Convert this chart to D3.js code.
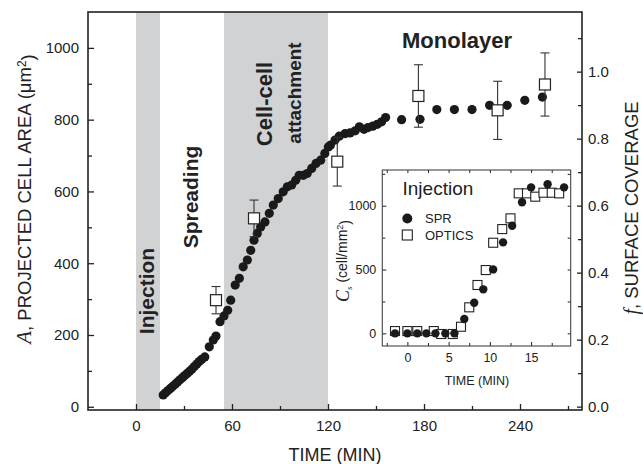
<!DOCTYPE html>
<html>
<head>
<meta charset="utf-8">
<script src="https://cdn.jsdelivr.net/npm/d3@7"></script>
<style>
  body { margin: 0; background: #fff; }
  text { font-family: "Liberation Sans", Arial, sans-serif; fill: #222; }
  .axis path, .axis line { stroke: #222; }
</style>
</head>
<body>
<script>
// main chart: SPR projected cell area vs time
var sprTime = [17, 18.5, 20, 21.5, 23, 24.5, 26, 27.5, 29, 30.5, 32, 33.5, 35, 36.5, 38, 39.5, 41, 43,
  45.8, 48.3, 50, 52.5, 55, 57.3, 59.2, 62, 64.6, 67, 69.6, 71.7, 73.75, 75.8, 77.9, 80.6, 83.3, 85.8,
  88.9, 92, 94.6, 97.3, 99.8, 102, 104.6, 107, 109.8, 112.5, 115.4, 118, 120.2, 121.5, 124.4, 127,
  130.6, 133.75, 137, 139.6, 142.5, 145, 148, 150.8, 153.5, 156, 166, 177.5, 188, 199, 210, 221, 232, 243, 254];
var sprArea = [33, 39, 45, 51, 57, 63, 69, 75, 81, 87, 93, 99, 105, 112, 119, 126, 132, 139,
  167, 186, 197, 237, 253, 269, 297, 339, 358, 390, 409, 436, 464, 483, 501, 515, 539, 562,
  580, 599, 613, 618, 631, 645, 645, 650, 664, 678, 687, 706, 724, 729, 743, 754,
  761, 763, 769, 780, 773, 778, 782, 787, 794, 806, 800, 801, 828, 828, 828, 840, 840, 854, 863];

// optical measurements with error bars
var optTime = [50, 73.75, 125.8, 176.5, 226, 255.6];
var optArea = [297, 525, 683, 866, 826, 898];
var optErr = [38, 51, 68, 87, 81, 88];

// shaded phases (min)
var phaseStart = [0, 55];
var phaseEnd = [15, 120];

var xTicks = [0, 60, 120, 180, 240];
var xMinor = [30, 90, 150, 210, 270];
var yTicks = [0, 200, 400, 600, 800, 1000];
var yMinor = [100, 300, 500, 700, 900];
var fTicks = [0, 0.2, 0.4, 0.6, 0.8, 1.0];
var fMinor = [0.1, 0.3, 0.5, 0.7, 0.9, 1.1];

// inset: cell density during injection
var insSprTime = [-1.5, 0, 1.2, 2.3, 3.4, 4.6, 5.7, 6.9, 8.1, 9.2, 10.4, 11.6, 12.7, 13.9, 15, 17, 19];
var insSprVal = [0, 0, 0, 0, 0, 0, 0, 112, 240, 345, 501, 713, 843, 1027, 1144, 1168, 1144];
var insOptTime = [-1.5, 0, 1.2, 3.2, 4.1, 5.5, 6.5, 7.5, 8.5, 9.5, 10.4, 11.5, 12.5, 13.5, 14.5, 15.5, 16.5, 17.5, 18.4];
var insOptVal = [18, 18, 18, 18, -5, -5, 52, 204, 379, 496, 710, 817, 901, 1097, 1097, 1071, 1102, 1102, 1097];
var insXTicks = [0, 5, 10, 15];
var insXMinor = [-2.5, 2.5, 7.5, 12.5, 17.5];
var insYTicks = [0, 500, 1000];
var insYMinor = [250, 750, 1250];

var svg = d3.select("body").append("svg")
  .attr("width", 643)
  .attr("height", 464);

var mLeft = 88, mRight = 582, mTop = 12, mBottom = 410;

var x = d3.scaleLinear().domain([-30, 278.75]).range([mLeft, mRight]);
var y = d3.scaleLinear().domain([-9, 1100]).range([mBottom, mTop]);
var yf = d3.scaleLinear().domain([-0.01, 1.178]).range([mBottom, mTop]);

// shaded bands
svg.selectAll(".band")
  .data(phaseStart)
  .enter()
  .append("rect")
  .attr("x", function(d) { return x(d); })
  .attr("y", mTop)
  .attr("width", function(d, i) { return x(phaseEnd[i]) - x(d); })
  .attr("height", mBottom - mTop)
  .attr("fill", "#d1d2d3");

// axes (ticks inward)
function styleAxis(g) {
  g.attr("class", "axis");
  g.selectAll("text").style("font-size", "15px");
  g.selectAll("line").attr("stroke-width", 1.3);
  g.select(".domain").remove();
}

svg.append("g")
  .attr("transform", "translate(" + mLeft + ",0)")
  .call(d3.axisLeft(y).tickValues(yTicks).tickSize(-6).tickPadding(9).tickFormat(d3.format("d")))
  .call(styleAxis);
svg.append("g")
  .attr("transform", "translate(" + mLeft + ",0)")
  .call(d3.axisLeft(y).tickValues(yMinor).tickSize(-4).tickFormat(""))
  .call(styleAxis);

svg.append("g")
  .attr("transform", "translate(0," + mBottom + ")")
  .call(d3.axisBottom(x).tickValues(xTicks).tickSize(-6).tickPadding(10))
  .call(styleAxis);
svg.append("g")
  .attr("transform", "translate(0," + mBottom + ")")
  .call(d3.axisBottom(x).tickValues(xMinor).tickSize(-4).tickFormat(""))
  .call(styleAxis);

svg.append("g")
  .attr("transform", "translate(" + mRight + ",0)")
  .call(d3.axisRight(yf).tickValues(fTicks).tickSize(-5).tickPadding(6).tickFormat(d3.format(".1f")))
  .call(styleAxis);
svg.append("g")
  .attr("transform", "translate(" + mRight + ",0)")
  .call(d3.axisRight(yf).tickValues(fMinor).tickSize(-4).tickFormat(""))
  .call(styleAxis);

// frame
svg.append("rect")
  .attr("x", mLeft).attr("y", mTop)
  .attr("width", mRight - mLeft).attr("height", mBottom - mTop)
  .attr("fill", "none")
  .attr("stroke", "#222")
  .attr("stroke-width", 1.6);

// phase labels
function vlabel(txt, cx, cy, size, weight) {
  svg.append("text")
    .attr("transform", "translate(" + cx + "," + cy + ") rotate(-90)")
    .attr("text-anchor", "middle")
    .attr("dy", "0.35em")
    .style("font-size", size + "px")
    .style("font-weight", weight)
    .text(txt);
}
vlabel("Injection", 147, 291, 21, "bold");
vlabel("Spreading", 191, 197, 21, "bold");
vlabel("Cell-cell", 264, 104, 22, "bold");
vlabel("attachment", 294, 93, 19, "bold");

svg.append("text")
  .attr("x", 457).attr("y", 48)
  .attr("text-anchor", "middle")
  .style("font-size", "22px")
  .style("font-weight", "bold")
  .text("Monolayer");

// axis titles
svg.append("text")
  .attr("x", 335).attr("y", 461)
  .attr("text-anchor", "middle")
  .style("font-size", "18px")
  .text("TIME (MIN)");

var yl = svg.append("text")
  .attr("transform", "translate(25,199) rotate(-90)")
  .attr("text-anchor", "middle")
  .attr("dy", "0.35em")
  .style("font-size", "18.5px");
yl.append("tspan").style("font-family", "'Liberation Serif', serif").style("font-style", "italic").style("font-size", "21px").text("A");
yl.append("tspan").text(", PROJECTED CELL AREA (\u03bcm");
yl.append("tspan").attr("dy", "-0.45em").style("font-size", "12px").text("2");
yl.append("tspan").attr("dy", "0.45em").text(")");

var fl = svg.append("text")
  .attr("transform", "translate(632,208) rotate(-90)")
  .attr("text-anchor", "middle")
  .attr("dy", "0.35em")
  .style("font-size", "18.5px");
fl.append("tspan").style("font-family", "'Liberation Serif', serif").style("font-style", "italic").style("font-size", "20px").text("f");
fl.append("tspan").text(", SURFACE COVERAGE");

// SPR dots
svg.selectAll(".spr")
  .data(sprTime)
  .enter()
  .append("circle")
  .attr("class", "spr")
  .attr("cx", function(d) { return x(d); })
  .attr("cy", function(d, i) { return y(sprArea[i]); })
  .attr("r", 4.6)
  .attr("fill", "#1a1a1a");

// optics squares with error bars
var opt = svg.selectAll(".opt")
  .data(optTime)
  .enter()
  .append("g")
  .attr("class", "opt");
opt.append("line")
  .attr("x1", function(d) { return x(d); })
  .attr("x2", function(d) { return x(d); })
  .attr("y1", function(d, i) { return y(optArea[i] + optErr[i]); })
  .attr("y2", function(d, i) { return y(optArea[i] - optErr[i]); })
  .attr("stroke", "#333").attr("stroke-width", 1.1);
[1, -1].forEach(function(s) {
  opt.append("line")
    .attr("x1", function(d) { return x(d) - 4.5; })
    .attr("x2", function(d) { return x(d) + 4.5; })
    .attr("y1", function(d, i) { return y(optArea[i] + s * optErr[i]); })
    .attr("y2", function(d, i) { return y(optArea[i] + s * optErr[i]); })
    .attr("stroke", "#333").attr("stroke-width", 1.1);
});
opt.append("rect")
  .attr("x", function(d) { return x(d) - 5.5; })
  .attr("y", function(d, i) { return y(optArea[i]) - 5.5; })
  .attr("width", 11).attr("height", 11)
  .attr("fill", "#fff")
  .attr("stroke", "#222").attr("stroke-width", 1.2);

// ---- inset ----
var il = 382.3, ir = 570.7, it = 170, ib = 346;
var ix = d3.scaleLinear().domain([-3.04, 19.8]).range([il, ir]);
var iy = d3.scaleLinear().domain([-99, 1280]).range([ib, it]);

svg.append("rect")
  .attr("x", il).attr("y", it)
  .attr("width", ir - il).attr("height", ib - it)
  .attr("fill", "#fff");

function styleInset(g) {
  g.attr("class", "axis");
  g.selectAll("text").style("font-size", "12.5px");
  g.selectAll("line").attr("stroke-width", 1).attr("stroke", "#444");
  g.select(".domain").remove();
}
svg.append("g").attr("transform", "translate(0," + ib + ")")
  .call(d3.axisBottom(ix).tickValues(insXTicks).tickSize(-4).tickPadding(7)).call(styleInset);
svg.append("g").attr("transform", "translate(0," + ib + ")")
  .call(d3.axisBottom(ix).tickValues(insXMinor).tickSize(-3).tickFormat("")).call(styleInset);
svg.append("g").attr("transform", "translate(0," + it + ")")
  .call(d3.axisTop(ix).tickValues(insXTicks.concat(insXMinor)).tickSize(-3).tickFormat("")).call(styleInset);
svg.append("g").attr("transform", "translate(" + il + ",0)")
  .call(d3.axisLeft(iy).tickValues(insYTicks).tickSize(-4).tickPadding(6).tickFormat(d3.format("d"))).call(styleInset);
svg.append("g").attr("transform", "translate(" + il + ",0)")
  .call(d3.axisLeft(iy).tickValues(insYMinor).tickSize(-3).tickFormat("")).call(styleInset);
svg.append("g").attr("transform", "translate(" + ir + ",0)")
  .call(d3.axisRight(iy).tickValues(insYTicks.concat(insYMinor)).tickSize(-3).tickFormat("")).call(styleInset);

svg.append("rect")
  .attr("x", il).attr("y", it)
  .attr("width", ir - il).attr("height", ib - it)
  .attr("fill", "none")
  .attr("stroke", "#444").attr("stroke-width", 1.1);

svg.selectAll(".iopt")
  .data(insOptTime)
  .enter()
  .append("rect")
  .attr("class", "iopt")
  .attr("x", function(d) { return ix(d) - 4.5; })
  .attr("y", function(d, i) { return iy(insOptVal[i]) - 4.5; })
  .attr("width", 9).attr("height", 9)
  .attr("fill", "#fff")
  .attr("stroke", "#222").attr("stroke-width", 1.1);

svg.selectAll(".ispr")
  .data(insSprTime)
  .enter()
  .append("circle")
  .attr("class", "ispr")
  .attr("cx", function(d) { return ix(d); })
  .attr("cy", function(d, i) { return iy(insSprVal[i]); })
  .attr("r", 4.2)
  .attr("fill", "#1a1a1a");

// inset legend and labels
svg.append("text").attr("x", 402.5).attr("y", 195)
  .style("font-size", "19px").text("Injection");
svg.append("circle").attr("cx", 407.3).attr("cy", 218.5).attr("r", 5).attr("fill", "#1a1a1a");
svg.append("text").attr("x", 425).attr("y", 218.5).attr("dy", "0.35em")
  .style("font-size", "13px").text("SPR");
svg.append("rect").attr("x", 402.3).attr("y", 230).attr("width", 10).attr("height", 10)
  .attr("fill", "#fff").attr("stroke", "#222").attr("stroke-width", 1.1);
svg.append("text").attr("x", 425).attr("y", 235).attr("dy", "0.35em")
  .style("font-size", "13px").text("OPTICS");

svg.append("text")
  .attr("x", 477).attr("y", 385)
  .attr("text-anchor", "middle")
  .style("font-size", "12.5px")
  .text("TIME (MIN)");

var cl = svg.append("text")
  .attr("transform", "translate(344,261) rotate(-90)")
  .attr("text-anchor", "middle")
  .attr("dy", "0.35em")
  .style("font-size", "14px");
cl.append("tspan").style("font-family", "'Liberation Serif', serif").style("font-style", "italic").style("font-size", "18px").text("C");
cl.append("tspan").attr("dy", "0.3em").style("font-family", "'Liberation Serif', serif").style("font-style", "italic").style("font-size", "9px").text("s");
cl.append("tspan").attr("dy", "-0.3em").text(" (cell/mm");
cl.append("tspan").attr("dy", "-0.45em").style("font-size", "9px").text("2");
cl.append("tspan").attr("dy", "0.45em").text(")");
</script>
</body>
</html>
